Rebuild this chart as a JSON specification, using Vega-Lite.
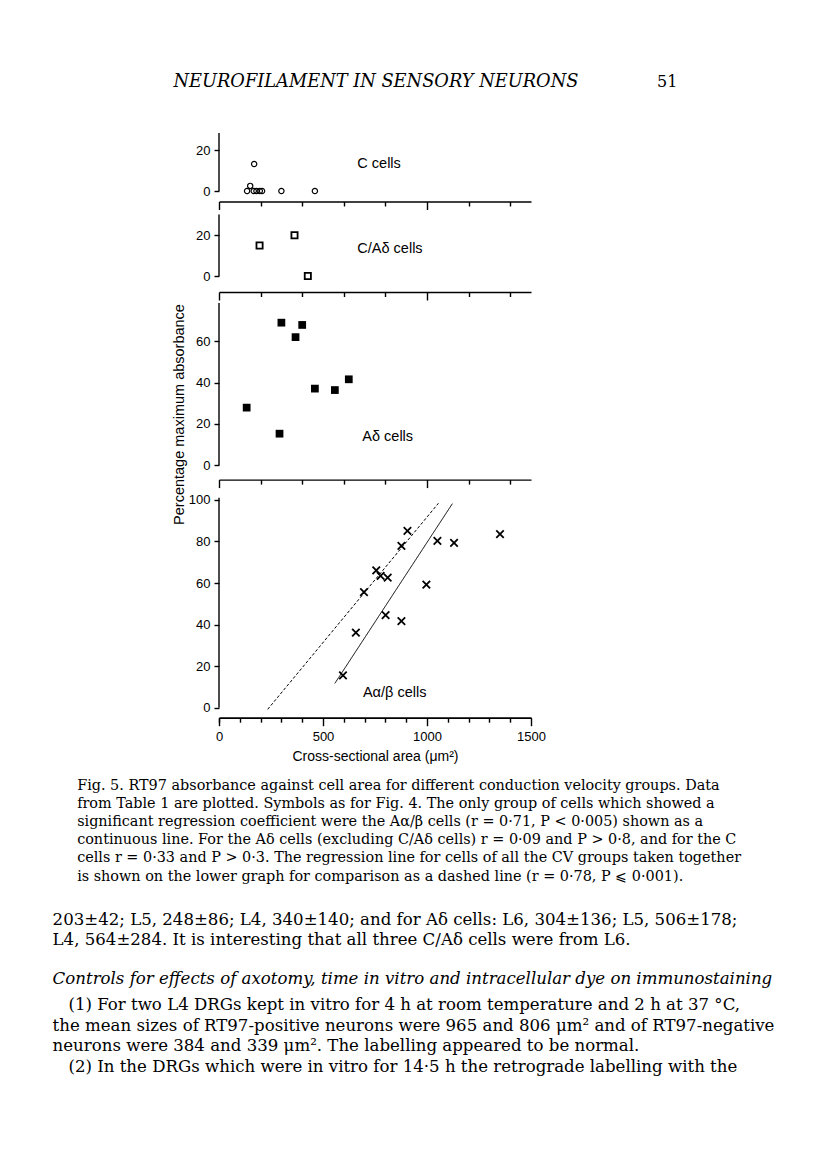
{
  "$schema": "https://vega.github.io/schema/vega-lite/v6.json",
  "background": "white",
  "padding": {"left": 52, "top": 73, "right": 10, "bottom": 10},
  "bounds": "flush",
  "spacing": 20,
  "config": {
    "view": {"stroke": null},
    "font": "Liberation Sans",
    "axis": {"domainColor": "black", "tickColor": "black", "labelColor": "black", "titleColor": "black", "labelFont": "Liberation Sans", "titleFont": "Liberation Sans", "labelFontSize": 13, "grid": false, "domainWidth": 1.4, "tickWidth": 1.4, "titleFontWeight": "normal", "labelOverlap": false}
  },
  "datasets": {
    "header": [
      {"part": "head", "text": "NEUROFILAMENT IN SENSORY NEURONS"},
      {"part": "page", "text": "51"}
    ],
    "c": [
      {"area": 135, "pct": 0}, {"area": 150, "pct": 2.5}, {"area": 169, "pct": 13.3},
      {"area": 167, "pct": 0}, {"area": 180, "pct": 0}, {"area": 196, "pct": 0},
      {"area": 207, "pct": 0}, {"area": 300, "pct": 0}, {"area": 461, "pct": 0}
    ],
    "cad": [
      {"area": 195, "pct": 15}, {"area": 363, "pct": 20}, {"area": 427, "pct": 0}
    ],
    "ad": [
      {"area": 133, "pct": 27.9}, {"area": 291, "pct": 15.3}, {"area": 300, "pct": 69},
      {"area": 368, "pct": 62}, {"area": 400, "pct": 67.9}, {"area": 461, "pct": 37.1},
      {"area": 557, "pct": 36.4}, {"area": 624, "pct": 41.6}
    ],
    "aab": [
      {"area": 596, "pct": 15.6}, {"area": 658, "pct": 36.1}, {"area": 697, "pct": 55.6},
      {"area": 756, "pct": 66.1}, {"area": 777, "pct": 63.4}, {"area": 811, "pct": 62.6},
      {"area": 801, "pct": 44.6}, {"area": 877, "pct": 77.9}, {"area": 906, "pct": 85.1},
      {"area": 877, "pct": 41.7}, {"area": 997, "pct": 59.2}, {"area": 1050, "pct": 80.3},
      {"area": 1130, "pct": 79.3}, {"area": 1351, "pct": 83.5}
    ],
    "lines": [
      {"series": "all groups", "area": 234, "pct": -0.8},
      {"series": "all groups", "area": 1055, "pct": 98.4},
      {"series": "Aab", "area": 557, "pct": 11.7},
      {"series": "Aab", "area": 1122, "pct": 98.2}
    ],
    "text": [
      {"block": "caption", "text": "Fig. 5. RT97 absorbance against cell area for different conduction velocity groups. Data\nfrom Table 1 are plotted. Symbols as for Fig. 4. The only group of cells which showed a\nsignificant regression coefficient were the Aα/β cells (r = 0·71, P < 0·005) shown as a\ncontinuous line. For the Aδ cells (excluding C/Aδ cells) r = 0·09 and P > 0·8, and for the C\ncells r = 0·33 and P > 0·3. The regression line for cells of all the CV groups taken together\nis shown on the lower graph for comparison as a dashed line (r = 0·78, P ⩽ 0·001)."},
      {"block": "p1", "text": "203±42; L5, 248±86; L4, 340±140; and for Aδ cells: L6, 304±136; L5, 506±178;\nL4, 564±284. It is interesting that all three C/Aδ cells were from L6."},
      {"block": "heading", "text": "Controls for effects of axotomy, time in vitro and intracellular dye on immunostaining"},
      {"block": "p2a", "text": "(1) For two L4 DRGs kept in vitro for 4 h at room temperature and 2 h at 37 °C,"},
      {"block": "p2b", "text": "the mean sizes of RT97-positive neurons were 965 and 806 μm² and of RT97-negative\nneurons were 384 and 339 μm². The labelling appeared to be normal."},
      {"block": "p2c", "text": "(2) In the DRGs which were in vitro for 14·5 h the retrograde labelling with the"}
    ]
  },
  "vconcat": [
    {
      "width": 312, "height": 40,
      "data": {"name": "header"},
      "layer": [
        {
          "transform": [{"filter": "datum.part === 'head'"}],
          "mark": {"type": "text", "align": "left", "baseline": "middle", "font": "DejaVu Serif", "fontStyle": "italic", "fontSize": 17.8, "color": "black"},
          "encoding": {
            "x": {"datum": -219, "type": "quantitative", "scale": {"domain": [0, 1500], "nice": false, "zero": false}, "axis": null},
            "y": {"datum": 0.77, "type": "quantitative", "scale": {"domain": [0, 1], "nice": false}, "axis": null},
            "text": {"field": "text"}
          }
        },
        {
          "transform": [{"filter": "datum.part === 'page'"}],
          "mark": {"type": "text", "align": "right", "baseline": "middle", "font": "DejaVu Serif", "fontSize": 16, "color": "black"},
          "encoding": {
            "x": {"datum": 2204, "type": "quantitative", "scale": {"domain": [0, 1500], "nice": false, "zero": false}, "axis": null},
            "y": {"datum": 0.77, "type": "quantitative", "scale": {"domain": [0, 1], "nice": false}, "axis": null},
            "text": {"field": "text"}
          }
        }
      ]
    },
    {
      "width": 312, "height": 58,
      "layer": [
        {
          "data": {"name": "c"},
          "mark": {"type": "point", "shape": "circle", "filled": false, "color": "black", "strokeWidth": 1.2, "size": 28, "opacity": 1},
          "encoding": {
            "x": {"field": "area", "type": "quantitative", "scale": {"domain": [0, 1500], "nice": false},
              "axis": {"values": [0,100,200,300,400,500,600,700,800,900,1000,1100,1200,1300,1400,1500], "labels": false, "title": null, "offset": 10.5,
                "tickSize": {"condition": {"test": "datum.value % 500 === 0", "value": 8}, "value": 4.5}}},
            "y": {"field": "pct", "type": "quantitative", "scale": {"domain": [0, 28.5], "nice": false},
              "axis": {"values": [0, 10, 20], "labelExpr": "datum.value % 20 === 0 ? datum.label : ''", "labelOverlap": false, "domain": false, "tickSize": 5, "labelPadding": 4, "title": null}}
          }
        },
        {
          "data": {"values": [{"label": "axis"}]},
          "mark": {"type": "rule", "color": "black", "strokeWidth": 1.4},
          "encoding": {
            "x": {"datum": 0, "type": "quantitative", "scale": {"domain": [0, 1500], "nice": false}},
            "y": {"datum": 0, "type": "quantitative", "scale": {"domain": [0, 28.5], "nice": false}},
            "y2": {"datum": 28.5}
          }
        },
        {
          "data": {"values": [{"label": "C cells"}]},
          "mark": {"type": "text", "align": "left", "baseline": "middle", "fontSize": 14.5, "font": "Liberation Sans", "color": "black"},
          "encoding": {
            "x": {"datum": 665, "type": "quantitative", "scale": {"domain": [0, 1500], "nice": false}},
            "y": {"datum": 13.3, "type": "quantitative", "scale": {"domain": [0, 28.5], "nice": false}},
            "text": {"field": "label"}
          }
        }
      ]
    },
    {
      "width": 312, "height": 65,
      "layer": [
        {
          "data": {"name": "cad"},
          "mark": {"type": "point", "shape": "square", "filled": false, "color": "black", "strokeWidth": 1.8, "size": 38, "opacity": 1},
          "encoding": {
            "x": {"field": "area", "type": "quantitative", "scale": {"domain": [0, 1500], "nice": false},
              "axis": {"values": [0,100,200,300,400,500,600,700,800,900,1000,1100,1200,1300,1400,1500], "labels": false, "title": null, "offset": 16,
                "tickSize": {"condition": {"test": "datum.value % 500 === 0", "value": 8}, "value": 4.5}}},
            "y": {"field": "pct", "type": "quantitative", "scale": {"domain": [0, 31.94], "nice": false},
              "axis": {"values": [0, 10, 20], "labelExpr": "datum.value % 20 === 0 ? datum.label : ''", "labelOverlap": false, "domain": false, "tickSize": 5, "labelPadding": 4, "title": null}}
          }
        },
        {
          "data": {"values": [{"label": "axis"}]},
          "mark": {"type": "rule", "color": "black", "strokeWidth": 1.4},
          "encoding": {
            "x": {"datum": 0, "type": "quantitative", "scale": {"domain": [0, 1500], "nice": false}},
            "y": {"datum": 0, "type": "quantitative", "scale": {"domain": [0, 31.94], "nice": false}},
            "y2": {"datum": 30.2}
          }
        },
        {
          "data": {"values": [{"label": "C/Aδ cells"}]},
          "mark": {"type": "text", "align": "left", "baseline": "middle", "fontSize": 14.5, "font": "Liberation Sans", "color": "black"},
          "encoding": {
            "x": {"datum": 665, "type": "quantitative", "scale": {"domain": [0, 1500], "nice": false}},
            "y": {"datum": 13.3, "type": "quantitative", "scale": {"domain": [0, 31.94], "nice": false}},
            "text": {"field": "label"}
          }
        }
      ]
    },
    {
      "width": 312, "height": 169.3,
      "layer": [
        {
          "data": {"name": "ad"},
          "mark": {"type": "point", "shape": "square", "filled": true, "color": "black", "size": 60, "opacity": 1},
          "encoding": {
            "x": {"field": "area", "type": "quantitative", "scale": {"domain": [0, 1500], "nice": false},
              "axis": {"values": [0,100,200,300,400,500,600,700,800,900,1000,1100,1200,1300,1400,1500], "labels": false, "title": null, "offset": 14.3,
                "tickSize": {"condition": {"test": "datum.value % 500 === 0", "value": 8}, "value": 4.5}}},
            "y": {"field": "pct", "type": "quantitative", "scale": {"domain": [0, 81.9], "nice": false},
              "axis": {"values": [0, 10, 20, 30, 40, 50, 60, 70], "labelExpr": "datum.value % 20 === 0 ? datum.label : ''", "labelOverlap": false, "domain": false, "tickSize": 5, "labelPadding": 4,
                "title": "Percentage maximum absorbance", "titleFontSize": 14.5, "titleX": -40, "titleY": 118, "titleAngle": -90, "titleAlign": "center", "titleBaseline": "middle"}}
          }
        },
        {
          "data": {"values": [{"label": "axis"}]},
          "mark": {"type": "rule", "color": "black", "strokeWidth": 1.4},
          "encoding": {
            "x": {"datum": 0, "type": "quantitative", "scale": {"domain": [0, 1500], "nice": false}},
            "y": {"datum": 0, "type": "quantitative", "scale": {"domain": [0, 81.9], "nice": false}},
            "y2": {"datum": 78.5}
          }
        },
        {
          "data": {"values": [{"label": "Aδ cells"}]},
          "mark": {"type": "text", "align": "left", "baseline": "middle", "fontSize": 14.5, "font": "Liberation Sans", "color": "black"},
          "encoding": {
            "x": {"datum": 689, "type": "quantitative", "scale": {"domain": [0, 1500], "nice": false}},
            "y": {"datum": 13.7, "type": "quantitative", "scale": {"domain": [0, 81.9], "nice": false}},
            "text": {"field": "label"}
          }
        }
      ]
    },
    {
      "width": 312, "height": 221.7,
      "resolve": {"axis": {"x": "independent"}},
      "layer": [
        {
          "data": {"name": "aab"},
          "mark": {"type": "point", "shape": "M-1,-1L1,1M-1,1L1,-1", "filled": false, "color": "black", "strokeWidth": 1.8, "size": 56, "opacity": 1},
          "encoding": {
            "x": {"field": "area", "type": "quantitative", "scale": {"domain": [0, 1500], "nice": false},
              "axis": {"orient": "bottom", "values": [0,100,200,300,400,600,700,800,900,1100,1200,1300,1400], "labels": false, "title": null, "offset": 10, "tickSize": 4.5}},
            "y": {"field": "pct", "type": "quantitative", "scale": {"domain": [0, 106.7], "nice": false},
              "axis": {"values": [0, 10, 20, 30, 40, 50, 60, 70, 80, 90, 100], "labelExpr": "datum.value % 20 === 0 ? datum.label : ''", "labelOverlap": false, "domain": false, "tickSize": 5, "labelPadding": 4, "title": null}}
          }
        },
        {
          "data": {"name": "lines"},
          "mark": {"type": "line", "color": "black", "strokeWidth": 1},
          "encoding": {
            "x": {"field": "area", "type": "quantitative", "scale": {"domain": [0, 1500], "nice": false},
              "axis": {"orient": "bottom", "values": [0, 500, 1000, 1500], "format": "d", "labelOverlap": false, "labelFlush": false, "labelFontSize": 13, "labelPadding": 4.5, "offset": 10, "tickSize": 8,
                "title": "Cross-sectional area (μm²)", "titleFontSize": 14, "titlePadding": 6}},
            "y": {"field": "pct", "type": "quantitative", "scale": {"domain": [0, 106.7], "nice": false}},
            "strokeDash": {"field": "series", "type": "nominal", "scale": {"domain": ["Aab", "all groups"], "range": [[1, 0], [3, 2]]}, "legend": null},
            "detail": {"field": "series"}
          }
        },
        {
          "data": {"values": [{"label": "axis"}]},
          "mark": {"type": "rule", "color": "black", "strokeWidth": 1.4},
          "encoding": {
            "x": {"datum": 0, "type": "quantitative", "scale": {"domain": [0, 1500], "nice": false}, "axis": null},
            "y": {"datum": 0, "type": "quantitative", "scale": {"domain": [0, 106.7], "nice": false}},
            "y2": {"datum": 101}
          }
        },
        {
          "data": {"values": [{"label": "Aα/β cells"}]},
          "mark": {"type": "text", "align": "left", "baseline": "middle", "fontSize": 14.5, "font": "Liberation Sans", "color": "black"},
          "encoding": {
            "x": {"datum": 692, "type": "quantitative", "scale": {"domain": [0, 1500], "nice": false}, "axis": null},
            "y": {"datum": 6.9, "type": "quantitative", "scale": {"domain": [0, 106.7], "nice": false}},
            "text": {"field": "label"}
          }
        }
      ]
    },
    {
      "width": 312, "height": 350,
      "data": {"name": "text"},
      "layer": [
        {
          "transform": [{"filter": "datum.block === 'caption'"}],
          "mark": {"type": "text", "align": "left", "baseline": "alphabetic", "font": "DejaVu Serif", "fontSize": 14.4, "lineBreak": "\n", "lineHeight": 18.2, "color": "black"},
          "encoding": {
            "x": {"datum": -682, "type": "quantitative", "scale": {"domain": [0, 1500], "nice": false, "zero": false}, "axis": null},
            "y": {"datum": 61.6, "type": "quantitative", "scale": {"domain": [0, 350], "reverse": true, "nice": false}, "axis": null},
            "text": {"field": "text"}
          }
        },
        {
          "transform": [{"filter": "datum.block === 'p1'"}],
          "mark": {"type": "text", "align": "left", "baseline": "alphabetic", "font": "DejaVu Serif", "fontSize": 16.6, "lineBreak": "\n", "lineHeight": 20.7, "color": "black"},
          "encoding": {
            "x": {"datum": -800, "type": "quantitative", "scale": {"domain": [0, 1500], "nice": false, "zero": false}, "axis": null},
            "y": {"datum": 196.6, "type": "quantitative", "scale": {"domain": [0, 350], "reverse": true, "nice": false}, "axis": null},
            "text": {"field": "text"}
          }
        },
        {
          "transform": [{"filter": "datum.block === 'heading'"}],
          "mark": {"type": "text", "align": "left", "baseline": "alphabetic", "font": "DejaVu Serif", "fontStyle": "italic", "fontSize": 16.6, "color": "black"},
          "encoding": {
            "x": {"datum": -800, "type": "quantitative", "scale": {"domain": [0, 1500], "nice": false, "zero": false}, "axis": null},
            "y": {"datum": 256, "type": "quantitative", "scale": {"domain": [0, 350], "reverse": true, "nice": false}, "axis": null},
            "text": {"field": "text"}
          }
        },
        {
          "transform": [{"filter": "datum.block === 'p2a'"}],
          "mark": {"type": "text", "align": "left", "baseline": "alphabetic", "font": "DejaVu Serif", "fontSize": 16.6, "color": "black"},
          "encoding": {
            "x": {"datum": -724, "type": "quantitative", "scale": {"domain": [0, 1500], "nice": false, "zero": false}, "axis": null},
            "y": {"datum": 281.6, "type": "quantitative", "scale": {"domain": [0, 350], "reverse": true, "nice": false}, "axis": null},
            "text": {"field": "text"}
          }
        },
        {
          "transform": [{"filter": "datum.block === 'p2b'"}],
          "mark": {"type": "text", "align": "left", "baseline": "alphabetic", "font": "DejaVu Serif", "fontSize": 16.6, "lineBreak": "\n", "lineHeight": 20.7, "color": "black"},
          "encoding": {
            "x": {"datum": -800, "type": "quantitative", "scale": {"domain": [0, 1500], "nice": false, "zero": false}, "axis": null},
            "y": {"datum": 302.6, "type": "quantitative", "scale": {"domain": [0, 350], "reverse": true, "nice": false}, "axis": null},
            "text": {"field": "text"}
          }
        },
        {
          "transform": [{"filter": "datum.block === 'p2c'"}],
          "mark": {"type": "text", "align": "left", "baseline": "alphabetic", "font": "DejaVu Serif", "fontSize": 16.6, "color": "black"},
          "encoding": {
            "x": {"datum": -724, "type": "quantitative", "scale": {"domain": [0, 1500], "nice": false, "zero": false}, "axis": null},
            "y": {"datum": 344, "type": "quantitative", "scale": {"domain": [0, 350], "reverse": true, "nice": false}, "axis": null},
            "text": {"field": "text"}
          }
        }
      ]
    }
  ]
}
